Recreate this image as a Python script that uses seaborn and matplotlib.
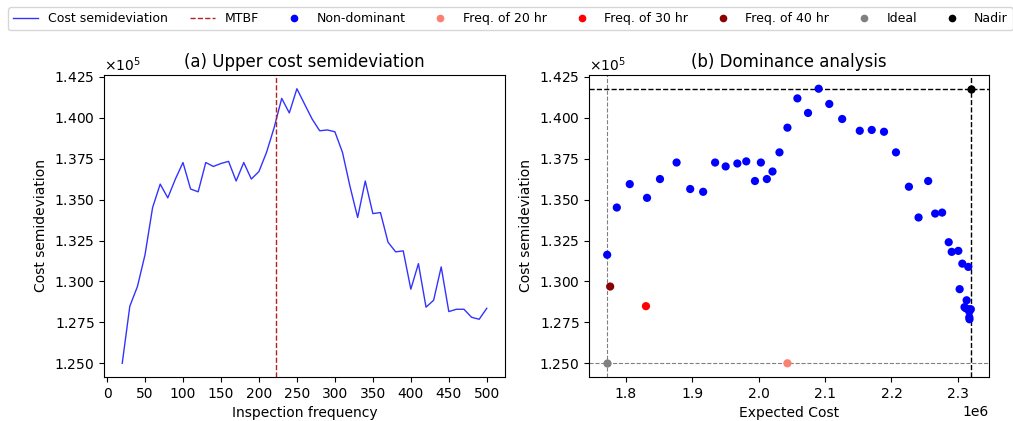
import numpy as np
import pandas as pd
import matplotlib
matplotlib.use("Agg")
import matplotlib.pyplot as plt
from matplotlib.lines import Line2D
from matplotlib.ticker import ScalarFormatter
import seaborn as sns

# Inspection frequencies (hr)
frequency = [20, 30, 40, 50, 60, 70, 80, 90, 100, 110, 120, 130, 140, 150, 160,
             170, 180, 190, 200, 210, 220, 230, 240, 250, 260, 270, 280, 290, 300,
             310, 320, 330, 340, 350, 360, 370, 380, 390, 400, 410, 420, 430, 440,
             450, 460, 470, 480, 490, 500]

# Upper cost semideviation (x1e5)
semideviation = [1.2500, 1.2849, 1.2969, 1.3163, 1.3452, 1.3595, 1.3511, 1.3626,
                 1.3727, 1.3565, 1.3548, 1.3727, 1.3703, 1.3721, 1.3734, 1.3614,
                 1.3727, 1.3626, 1.3672, 1.3789, 1.3940, 1.4119, 1.4030, 1.4178,
                 1.4085, 1.3993, 1.3921, 1.3926, 1.3915, 1.3789, 1.3579, 1.3391,
                 1.3614, 1.3415, 1.3421, 1.3240, 1.3181, 1.3187, 1.2953, 1.3109,
                 1.2843, 1.2885, 1.3089, 1.2816, 1.2830, 1.2830, 1.2781, 1.2769,
                 1.2836]

# Expected cost (x1e6)
expected_cost = [2.0434, 1.8304, 1.7765, 1.7720, 1.7865, 1.8060, 1.8320, 1.8515,
                 1.8765, 1.8970, 1.9165, 1.9345, 1.9504, 1.9680, 1.9814, 1.9945,
                 2.0034, 2.0124, 2.0209, 2.0314, 2.0434, 2.0584, 2.0744, 2.0904,
                 2.1064, 2.1258, 2.1523, 2.1703, 2.1888, 2.2068, 2.2263, 2.2408,
                 2.2553, 2.2658, 2.2763, 2.2862, 2.2907, 2.3007, 2.3027, 2.3067,
                 2.3100, 2.3132, 2.3157, 2.3172, 2.3195, 2.3180, 2.3172, 2.3175,
                 2.3120]

mtbf = 223

df = pd.DataFrame({
    "freq": frequency,
    "semidev": np.array(semideviation) * 1e5,
    "cost": np.array(expected_cost) * 1e6,
})

def category(f):
    if f == 20:
        return "Freq. of 20 hr"
    if f == 30:
        return "Freq. of 30 hr"
    if f == 40:
        return "Freq. of 40 hr"
    return "Non-dominant"

df["cat"] = df["freq"].apply(category)
palette = {"Non-dominant": "blue", "Freq. of 20 hr": "salmon",
           "Freq. of 30 hr": "red", "Freq. of 40 hr": "darkred"}

ideal_x, ideal_y = df["cost"].min(), df["semidev"].min()
nadir_x, nadir_y = df["cost"].max(), df["semidev"].max()

fig = plt.figure(figsize=(10.13, 4.21), dpi=100)
W, H = 1013, 421
ax1 = fig.add_axes([104 / W, 1 - 377 / H, (505 - 104) / W, (377 - 75) / H])
ax2 = fig.add_axes([589 / W, 1 - 377 / H, (989 - 589) / W, (377 - 75) / H])

# (a)
sns.lineplot(data=df, x="freq", y="semidev", ax=ax1, color="blue", alpha=0.8,
             lw=1, legend=False)
ax1.axvline(mtbf, color="firebrick", ls="--", lw=1)
ax1.set_xlabel("Inspection frequency")
ax1.set_ylabel("Cost semideviation")
ax1.set_title("(a) Upper cost semideviation", fontsize=12)
ax1.set_xticks(np.arange(0, 501, 50))

# (b)
ax2.axvline(ideal_x, color="gray", ls="--", lw=0.8, zorder=1)
ax2.axhline(ideal_y, color="gray", ls="--", lw=0.8, zorder=1)
ax2.axvline(nadir_x, color="black", ls="--", lw=1, zorder=1)
ax2.axhline(nadir_y, color="black", ls="--", lw=1, zorder=1)
sns.scatterplot(data=df, x="cost", y="semidev", hue="cat", palette=palette,
                ax=ax2, s=35, linewidth=0, legend=False, zorder=3)
sns.scatterplot(x=[ideal_x], y=[ideal_y], color="gray", s=35, linewidth=0,
                ax=ax2, zorder=4)
sns.scatterplot(x=[nadir_x], y=[nadir_y], color="black", s=35, linewidth=0,
                ax=ax2, zorder=4)
ax2.set_xlabel("Expected Cost")
ax2.set_ylabel("Cost semideviation")
ax2.set_title("(b) Dominance analysis", fontsize=12)

for ax in (ax1, ax2):
    fmt = ScalarFormatter(useMathText=True)
    fmt.set_powerlimits((0, 0))
    ax.set_yticks(np.arange(1.25e5, 1.4251e5, 0.025e5))
    ax.yaxis.set_major_formatter(fmt)

ax2.set_xticks(np.arange(1.8e6, 2.31e6, 0.1e6))

handles = [
    Line2D([], [], color="blue", alpha=0.8, lw=1),
    Line2D([], [], color="firebrick", ls="--", lw=1),
    Line2D([], [], marker="o", ls="", color="blue", markersize=4.5),
    Line2D([], [], marker="o", ls="", color="salmon", markersize=4.5),
    Line2D([], [], marker="o", ls="", color="red", markersize=4.5),
    Line2D([], [], marker="o", ls="", color="darkred", markersize=4.5),
    Line2D([], [], marker="o", ls="", color="gray", markersize=4.5),
    Line2D([], [], marker="o", ls="", color="black", markersize=4.5),
]
labels = ["Cost semideviation", "MTBF", "Non-dominant", "Freq. of 20 hr",
          "Freq. of 30 hr", "Freq. of 40 hr", "Ideal", "Nadir"]
fig.legend(handles, labels, loc="upper left", bbox_to_anchor=(8 / W, 1 - 7 / H),
           borderaxespad=0, ncol=8, fontsize=9, frameon=True,
           columnspacing=1.78, borderpad=0.4)

fig.savefig("out.png", dpi=100)
